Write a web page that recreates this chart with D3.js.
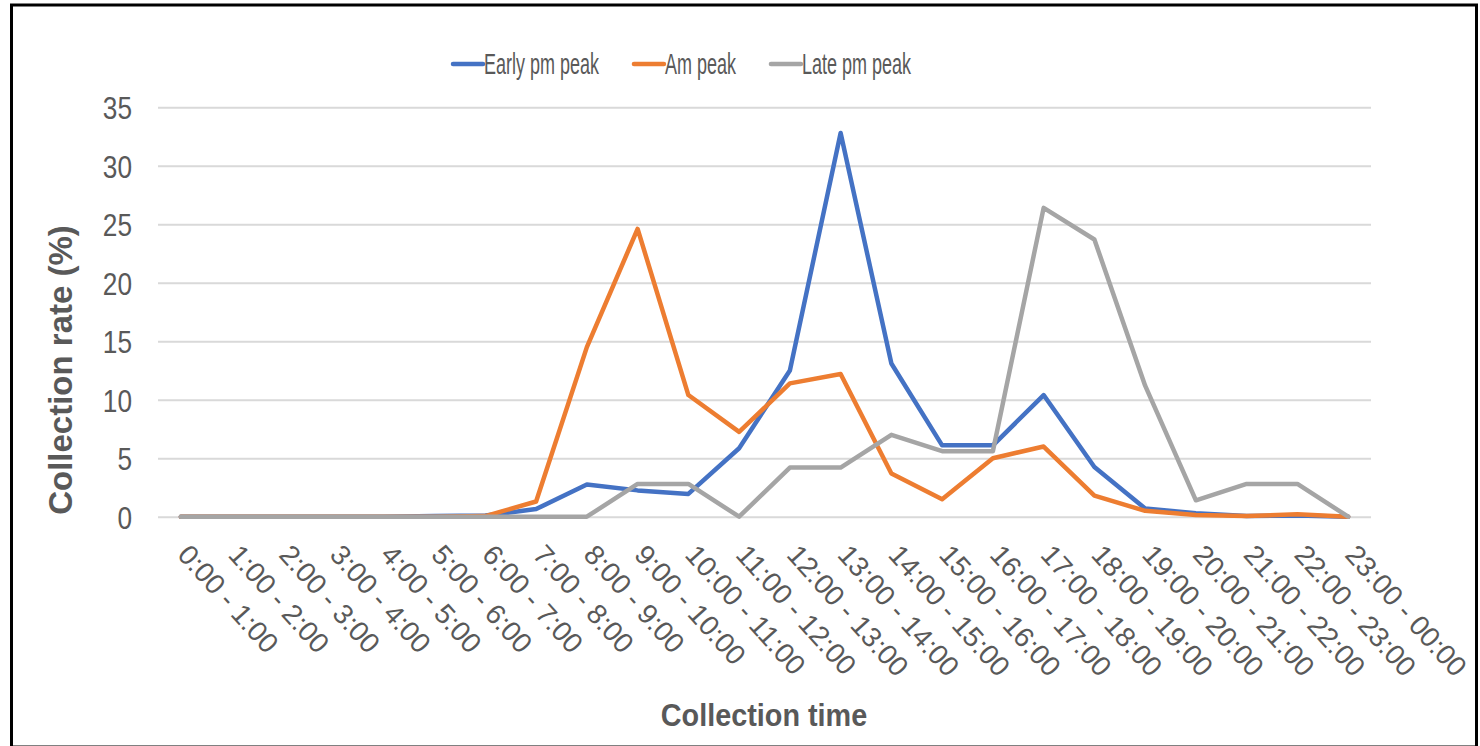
<!DOCTYPE html>
<html>
<head>
<meta charset="utf-8">
<script src="https://cdn.jsdelivr.net/npm/d3@7/dist/d3.min.js"></script>
<style>
    body { margin: 0; background: #fff; }
    text { font-family: "Liberation Sans", Arial, sans-serif; fill: #595959; }
</style>
</head>
<body>
<div id="chart"></div>
<script>
// Collection rate by hour of day

const timeSlots = [
    '0:00 - 1:00', '1:00 - 2:00', '2:00 - 3:00', '3:00 - 4:00', '4:00 - 5:00', '5:00 - 6:00',
    '6:00 - 7:00', '7:00 - 8:00', '8:00 - 9:00', '9:00 - 10:00', '10:00 - 11:00', '11:00 - 12:00',
    '12:00 - 13:00', '13:00 - 14:00', '14:00 - 15:00', '15:00 - 16:00', '16:00 - 17:00', '17:00 - 18:00',
    '18:00 - 19:00', '19:00 - 20:00', '20:00 - 21:00', '21:00 - 22:00', '22:00 - 23:00', '23:00 - 00:00'
];

const earlyPmPeak = [0, 0, 0, 0, 0, 0.05, 0.1, 0.65, 2.75, 2.25, 1.95, 5.85, 12.5, 32.8, 13.1, 6.1, 6.1, 10.4, 4.25, 0.7, 0.3, 0.05, 0.1, 0];
const amPeak = [0, 0, 0, 0, 0, 0, 0.05, 1.3, 14.5, 24.6, 10.4, 7.25, 11.4, 12.2, 3.7, 1.5, 5.0, 6.0, 1.8, 0.5, 0.15, 0.05, 0.2, 0];
const latePmPeak = [0, 0, 0, 0, 0, 0, 0, 0, 0, 2.8, 2.8, 0, 4.2, 4.2, 7.0, 5.6, 5.6, 26.4, 23.7, 11.2, 1.4, 2.8, 2.8, 0];

const seriesNames = ['Early pm peak', 'Am peak', 'Late pm peak'];
const seriesColors = ['#4472C4', '#ED7D31', '#A5A5A5'];
const yTicks = [0, 5, 10, 15, 20, 25, 30, 35];

function drawChart() {
    const width = 1480;
    const height = 746;
    const plot = { left: 158, right: 1371, top: 107.3, bottom: 516.7 };

    const svg = d3.select('#chart').append('svg')
        .attr('width', width)
        .attr('height', height);

    // outer frame
    svg.append('rect')
        .attr('x', 11.5)
        .attr('y', 5)
        .attr('width', 1465)
        .attr('height', 742)
        .attr('fill', '#fff')
        .attr('stroke', '#000')
        .attr('stroke-width', 3);

    const x = d3.scalePoint()
        .domain(timeSlots)
        .range([plot.left, plot.right])
        .padding(0.45);

    const y = d3.scaleLinear()
        .domain([0, 35])
        .range([plot.bottom, plot.top]);

    // y axis with gridlines
    const yAxis = svg.append('g')
        .attr('transform', `translate(${plot.left},0)`)
        .call(d3.axisLeft(y).tickValues(yTicks).tickSize(-(plot.right - plot.left)).tickPadding(0));

    yAxis.select('.domain').remove();
    yAxis.selectAll('.tick line')
        .attr('stroke', '#d9d9d9')
        .attr('stroke-width', 2);
    yAxis.selectAll('.tick text')
        .attr('x', 0)
        .attr('dy', '0.36em')
        .attr('font-size', 32)
        .attr('transform', 'translate(-26,0) scale(0.82,1)')
        .style('font-family', '"Liberation Sans", Arial, sans-serif')
        .style('fill', '#595959');

    // x axis labels, rotated
    const xAxis = svg.append('g')
        .attr('transform', `translate(0,${plot.bottom})`)
        .call(d3.axisBottom(x).tickSize(0));

    xAxis.select('.domain').remove();
    xAxis.selectAll('.tick text')
        .attr('y', 0)
        .attr('dy', 0)
        .attr('text-anchor', 'start')
        .attr('font-size', 28)
        .attr('transform', 'translate(-5,39) rotate(48)')
        .style('font-family', '"Liberation Sans", Arial, sans-serif')
        .style('fill', '#595959');

    // lines
    const line = d3.line()
        .x((d, i) => x(timeSlots[i]))
        .y(d => y(d));

    const allSeries = [earlyPmPeak, amPeak, latePmPeak];

    svg.append('g')
        .selectAll('path')
        .data(allSeries)
        .enter()
        .append('path')
        .attr('d', d => line(d))
        .attr('fill', 'none')
        .attr('stroke', (d, i) => seriesColors[i])
        .attr('stroke-width', 4.5)
        .attr('stroke-linejoin', 'round')
        .attr('stroke-linecap', 'round');

    // axis titles
    svg.append('text')
        .attr('transform', 'translate(764,726) scale(0.9,1)')
        .attr('text-anchor', 'middle')
        .attr('font-size', 32)
        .attr('font-weight', 'bold')
        .text('Collection time');

    svg.append('text')
        .attr('transform', 'translate(72,370) rotate(-90)')
        .attr('text-anchor', 'middle')
        .attr('font-size', 33)
        .attr('font-weight', 'bold')
        .text('Collection rate (%)');

    // legend
    const legend = svg.append('g').attr('class', 'legend');
    let lx = 453;
    const ly = 64;
    seriesNames.forEach((name, i) => {
        legend.append('line')
            .attr('x1', lx)
            .attr('x2', lx + 30)
            .attr('y1', ly)
            .attr('y2', ly)
            .attr('stroke', seriesColors[i])
            .attr('stroke-width', 4.5)
            .attr('stroke-linecap', 'round');

        const t = legend.append('text')
            .attr('transform', `translate(${lx + 31},${ly + 9.5}) scale(0.6,1)`)
            .attr('font-size', 30)
            .text(name);

        const w = t.node().getComputedTextLength() * 0.6;
        lx += 31 + w + 35;
    });
}

drawChart();
</script>
</body>
</html>
